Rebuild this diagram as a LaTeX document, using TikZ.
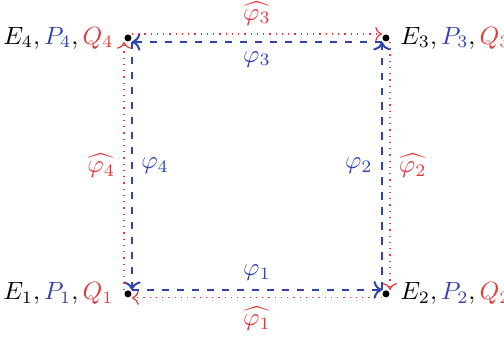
\documentclass[tikz,border=0pt]{standalone}
\usepackage{amsmath}
\usepackage{amssymb}
\usetikzlibrary{arrows.meta, positioning}
\definecolor{mapblue}{HTML}{2F44B0}
\definecolor{mapred}{HTML}{E23A3A}

\begin{document}
\begin{tikzpicture}[
  pt/.style={circle, fill=black, inner sep=0pt, minimum size=2.8pt},
  fwd/.style={mapblue, thick, dashed, ->},
  bwd/.style={mapred, line width=0.5pt, dotted, ->},
  lbl/.style={inner sep=2pt}
]
\useasboundingbox (-1.80,-0.604) rectangle (5.29,4.134);
\node[pt] (e1) at (0,0) {};
\node[pt] (e2) at (3.63,0) {};
\node[pt] (e3) at (3.63,3.6) {};
\node[pt] (e4) at (0,3.6) {};
\node[lbl, left=2pt of e1] (n1) {$E_1, \textcolor{mapblue}{P_1}, \textcolor{mapred}{Q_1}$};
\node[lbl, right=2pt of e2] (n2) {$E_2, \textcolor{mapblue}{P_2}, \textcolor{mapred}{Q_2}$};
\node[lbl, right=2pt of e3] (n3) {$E_3, \textcolor{mapblue}{P_3}, \textcolor{mapred}{Q_3}$};
\node[lbl, left=2pt of e4] (n4) {$E_4, \textcolor{mapblue}{P_4}, \textcolor{mapred}{Q_4}$};
% maps phi (inside)
\draw[fwd, transform canvas={yshift=1.6pt}] (e1) -- node[above, mapblue] (f1) {$\varphi_1$} (e2);
\draw[fwd, transform canvas={xshift=-1.6pt}] (e2) -- node[left, mapblue] (f2) {$\varphi_2$} (e3);
\draw[fwd, transform canvas={yshift=-1.6pt}] (e3) -- node[below, mapblue] (f3) {$\varphi_3$} (e4);
\draw[fwd, transform canvas={xshift=1.6pt}] (e4) -- node[right, mapblue] (f4) {$\varphi_4$} (e1);
% hat maps (outside)
\draw[bwd, transform canvas={yshift=-1.6pt}] (e2) -- node[below, mapred] (g1) {$\widehat{\varphi_1}$} (e1);
\draw[bwd, transform canvas={xshift=1.6pt}] (e3) -- node[right, mapred] (g2) {$\widehat{\varphi_2}$} (e2);
\draw[bwd, transform canvas={yshift=1.6pt}] (e4) -- node[above, mapred] (g3) {$\widehat{\varphi_3}$} (e3);
\draw[bwd, transform canvas={xshift=-1.6pt}] (e1) -- node[left, mapred] (g4) {$\widehat{\varphi_4}$} (e4);
\end{tikzpicture}
\end{document}
